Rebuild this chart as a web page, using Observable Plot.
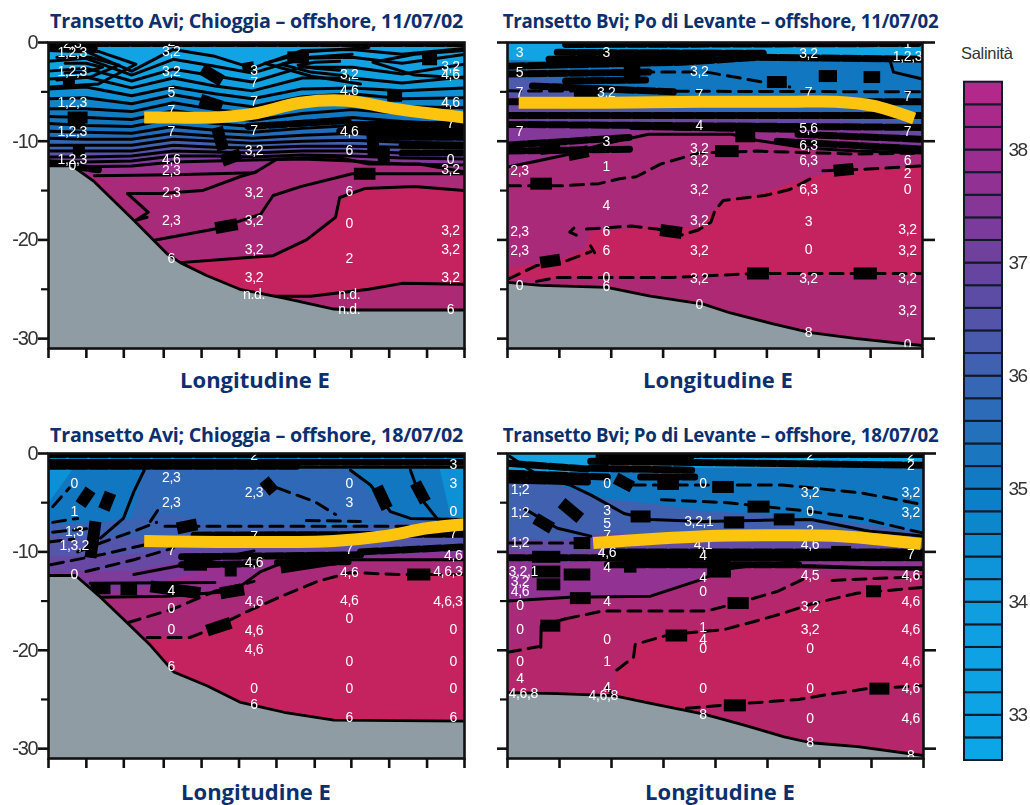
<!DOCTYPE html>
<html><head><meta charset="utf-8">
<script src="https://cdn.jsdelivr.net/npm/d3@7"></script>
<script src="https://cdn.jsdelivr.net/npm/@observablehq/plot@0.6"></script>
<style>
html,body{margin:0;padding:0;background:#fff;overflow:hidden;width:1030px;height:805px}
#page{position:relative;width:1030px;height:805px}
#page svg{position:absolute;overflow:visible;background:transparent;filter:blur(.55px)}
#page g[aria-label="text"]{letter-spacing:-.35px}
.t{position:absolute;font-family:"Open Sans",sans-serif;font-weight:700;color:#0c2f6e;white-space:nowrap;transform:translateX(-50%);line-height:1}
.title{font-size:19.7px;letter-spacing:-.25px}
.title2{font-size:18.7px;letter-spacing:-.25px;margin-top:.5px}
.xl{font-size:22px}
.sal{position:absolute;left:961px;top:44px;font:16.5px "Liberation Sans",sans-serif;color:#333;letter-spacing:-.3px}
</style></head><body><div id="page"></div>
<script>
// ---------- salinity colour scales ----------
const panelSalinity = [33, 34, 34.5, 35, 35.4, 35.8, 36.2, 36.6, 37, 37.5, 38, 38.4, 38.7, 39];
const panelColours = ["#12a5e6","#0fa0e0","#0e90d6","#0f7cc4","#1272bd","#2f68b6","#4060b0","#5a52a8","#6c45a0","#84389a","#9c2e8c","#a92a78","#b5276a","#c4235f"];
const legendSalinity = [32.6, 34, 35, 36, 37, 38, 38.6];
const legendColours = ["#0ca5e8","#0f9ee0","#0c7dc4","#3a64b2","#6b429f","#a02a8e","#b9278a"];
const legendEdges = [32.6,32.8,33,33.2,33.4,33.6,33.8,34,34.2,34.4,34.6,34.8,35,35.2,35.4,35.6,35.8,36,36.2,36.4,36.6,36.8,37,37.2,37.4,37.6,37.8,38,38.2,38.4,38.6];
const legendTicks = [33,34,35,36,37,38];

// ---------- axes ----------
const xTicksWide = [0,9.1,18.1,27.7,36.8,45.8,54.8,64,72.8,81.9,91,100];
const xTicksNarrow = [0,12.5,25,37.5,50,62.5,75,87.5,100];
const yMajor = [0,10,20,30];
const yMinor = [5,15,25];

// ---------- Panel A: Chioggia 11/07/02 ----------
const stationsA = [0,9,20,30,40,49,61,73,85,100];
const bandsA = [
 [33.5,[0.8,0.9,2.9,0.7,1.4,2.6,0.8,0.7,1.2,0.6]],
 [33.7,[1.9,1.6,3.3,1.7,2.4,3.1,1.6,1.5,2.1,1.2]],
 [34,[2.9,2.6,3.9,2.7,3.4,4.0,2.5,2.5,3.2,2.2]],
 [34.2,[3.7,3.5,4.6,3.6,4.4,4.9,3.6,3.6,4.1,3.5]],
 [34.5,[4.7,4.5,5.4,4.5,5.2,5.7,4.7,4.6,4.9,4.6]],
 [34.8,[5.7,5.6,6.2,5.3,6.0,6.5,5.5,5.2,5.7,5.6]],
 [35,[6.7,6.7,7.0,6.1,6.8,7.2,6.4,6.0,6.5,6.6]],
 [35.2,[7.5,7.6,7.8,6.9,7.5,7.9,7.2,6.8,7.2,7.5]],
 [35.4,[8.2,8.4,8.5,7.7,8.2,8.5,8.0,7.6,8.0,8.3]],
 [35.6,[9.0,9.1,9.2,8.5,8.9,9.1,8.7,8.4,8.8,9.0]],
 [35.9,[9.7,9.8,9.8,9.2,9.5,9.7,9.4,9.2,9.5,9.6]],
 [36.2,[10.4,10.4,10.4,9.8,10.0,10.2,10,9.9,10.1,10.2]],
 [36.6,[11,11,11,10.4,10.6,10.7,10.5,10.5,10.6,10.7]],
 [37,[11.6,11.6,11.5,11,11.1,11.2,11,11,11.2,11.2]],
 [37.5,[12,12.1,12,11.5,11.5,11.6,11.4,11.5,11.7,11.8]],
 [38,[12.5,12.6,12.5,12.1,12,11.9,11.8,12,12.3,12.4]]
];
const lowerA = [
 [38.4,[[0,13.5],[30,13.4],[49.5,13.2],[55,11.8],[69,11.6],[77,12.3],[89,12.3],[100,13.1]]],
 [39,[[31.7,22.3],[44,21.9],[54,21.6],[62,20],[69,17.7],[70,15.7],[76,14.8],[88,14.6],[100,15]]],
 [38.5,[[54,25.7],[63,25.7],[77,25],[85,24.4],[100,24.5]]]
];
const solidA = [
 [[11,13.5],[30,13.4],[49.5,13.2],[55,11.8],[69,11.6],[77,12.3],[89,12.3],[100,13.1]],
 [[19,15.3],[27,15.3],[37,15],[46,13.6],[50,13.1]],
 [[19,15.3],[24,17.2],[21,18],[23.7,17.7]],
 [[25.7,20],[40,18.9],[51,17.4],[54,15.5],[60.6,14.6],[73,13.3],[100,13.3]],
 [[31.7,22.3],[44,21.9],[54,21.6],[62,20],[69,17.7],[70,15.7],[76,14.8],[88,14.6],[100,15]],
 [[54,25.7],[63,25.7],[77,25],[85,24.4],[100,24.5]],
 [[0.5,0.8],[12,0.9],[21,2.2],[12,4.2],[0.5,4.5]],
 [[2,1.5],[10,1.5],[17,2.3],[10,3.5],[2,3.8]],
 [[4,2.1],[9,2.1],[13,2.5],[9,3],[4,3.1]],
 [[77,0.5],[63,0.9],[52,2.1],[63,3.4],[75,4.2]],
 [[73,1.2],[63,1.5],[56,2.2],[63,3],[72,3.4]],
 [[70,1.9],[64,2],[60,2.3],[64,2.6],[70,2.8]],
 [[100,0.8],[88,1.2],[78,2],[88,3.3],[100,3.6]]
];
const heavyA = [
 [[0,0.1],[100,0.1]],[[0,0.6],[11,0.6]],
 [[48,8.5],[72,7.9]],[[72,8.3],[100,8.3]],[[78,9.6],[100,9.6]],[[70,9],[100,9]],[[0,12.2],[12,12.9]],[[85,10.4],[100,10.4]],[[85,11.2],[100,11.2]]
];
const dashedA = [];
const clumpsA = [
 [4.9,3.7,4.9,4.7],[7.3,7.1,7.3,8.8],[4.6,7.6,9.4,7.6],[7.3,10.3,7.3,11.6],[36.9,2.7,41.7,3.9],[36.5,5.8,41.7,6.5],
 [40.5,8.6,42,10.9],[41.7,12,46.2,11.3],[47.8,2,48.2,2.9],[57.4,1.5,62.6,1.5],[89.8,1.7,93.4,1.7],[81.4,5.4,85,5.4],
 [73.4,13.3,78.6,13.3],[77.8,8.9,78.2,11.6],[80.6,10.6,80.6,12.3],[40.1,18.8,45.4,18.4]
];
const groundA = [[0,12.5],[5.7,12.5],[11,14.1],[20.5,18],[28.5,21.4],[31.7,22.3],[38,23.6],[46,25],[56.6,25.9],[68.6,27],[72.6,27.1],[100,27.1]];
const yellowA = [[23,7.6],[30,7.6],[39.7,7.6],[49.4,7.2],[60.6,6.1],[71.8,5.9],[82.9,6.7],[100,7.6]];
const labelsA = [
 [5.7,[[0.1,"2,3"],[1,"1,2,3"],[2.9,"1,2,3"],[6.1,"1,2,3"],[9,"1,2,3"],[11.9,"1,2,3"],[12.5,"0"]]],
 [29.5,[[-0.1,"2"],[0.9,"3,2"],[2.9,"3,2"],[5.05,"5"],[6.9,"7"],[9,"7"],[11.9,"4,6"],[13,"2,3"],[15.2,"2,3"],[18,"2,3"],[21.9,"6"]]],
 [49.4,[[2.8,"3"],[4.1,"7"],[6,"7"],[8.9,"7"],[10.9,"3,2"],[15.2,"3,2"],[18,"3,2"],[21,"3,2"],[23.8,"3,2"],[25.5,"n.d."]]],
 [72.3,[[3.2,"3,2"],[4.9,"4,6"],[9,"4,6"],[10.9,"6"],[15.1,"6"],[18.3,"0"],[21.9,"2"],[25.5,"n.d."],[27.1,"n.d."]]],
 [96.6,[[2.4,"3,2"],[3.2,"4,6"],[6.1,"4,6"],[8.2,"7"],[11.9,"0"],[12.9,"3,2"],[19,"3,2"],[21,"3,2"],[23.8,"3,2"],[27.1,"6"]]]
];

// ---------- Panel B: Po di Levante 11/07/02 ----------
const stationsB = [0,12,24,36,47,60,73,85,100];
const bandsB = [
 [35.2,[1.8,2,1.4,1.4,1.3,1.4,1.4,1.6,1.8]],
 [35.8,[3.4,3.6,5.5,5.5,5.7,5.7,5.3,5.5,7.5]],
 [36.4,[3.5,4.1,6,6.7,7,7,7,7.2,8.5]],
 [36.9,[5.3,6.7,7.5,7.5,7.7,7.5,7.5,8.2,9.2]],
 [37.5,[7.7,8.4,8.2,8,8,8.2,8.4,8.9,9.7]],
 [38,[10,10.2,9.4,8.7,8.5,8.9,9.4,10,10.7]]
];
const lowerB = [
 [38.4,[[0,12.6],[6,12.1],[14,11.4],[24,10.2],[34,9.3],[54,9.3],[60,9.9],[72,10.7],[84,11],[100,11.2]]],
 [39,[[0,23],[5,22.6],[13,22],[19,21],[20,19.2],[36,18.7],[46,18.9],[50,17],[52,16],[62,15.2],[73,13.7],[81,13],[100,12.6]]],
 [38.5,[[0,24],[8,24],[24,23.7],[100,23.7]]]
];
const solidB = [
 [[0,12.6],[6,12.1],[14,11.4],[24,10.2],[34,9.3],[54,9.3],[60,9.9],[72,10.7],[84,11],[100,11.2]],
 [[92,1.6],[93,3],[100,3.7]]
];
const heavyB = [
 [[14,0.2],[100,0.1]],[[12,1],[62,1.1]],[[10,1.7],[50,1.6]],[[0,2.4],[42,2],[60,1.5],[100,1.7]],[[0,3.2],[34,3]],[[6,4.4],[40,5]],[[14,3.9],[34,3.8]],
 [[0,6],[100,6]],[[0,7.4],[100,7.4]],[[0,8.3],[100,8.6]],[[0,10.4],[30,9.6]],[[0,11],[30,10.8]],[[30,8.5],[70,8.8]],[[65,10],[100,10.8]],[[70,9.3],[100,9.8]]
];
const dashedB = [
 [[22,3],[46,3]],[[0,4.9],[100,5]],[[48,3],[68,4.5]],
 [[0,24],[7,22.6],[13,22.3],[20,21.2]],[[16,18.8],[15,19.2],[17,19.6]],[[20,20.6],[21,21.3]],
 [[19,18.9],[30,18.6],[36,18.9],[42,19.5],[46,19],[49,18.2],[50,17],[52,16],[62,15.5],[68,14.9],[73,13.8]],
 [[76,13],[88,12.8],[100,12.5]],[[7,24.2],[12,23.8],[40,23.8],[60,23.4],[100,23.4]],
 [[0,14.5],[14,14.5],[22,14.3],[27,13.8],[31,13.6],[37,12.3],[46,11.2],[60,11],[84,11.3],[100,11.2]]
];
const clumpsB = [
 [5.5,14.3,10.7,14.3],[7.9,22.3,12.7,22],[36.8,19,42,19.3],[50,11,55.7,11],[57.7,23.4,63,23.4],[83.4,23.4,89,23.4],
 [78.6,13,83.4,12.8],[62.5,4,67.3,4],[75,3.4,79.4,3.4],[85.8,3.5,89.8,3.5],[54.9,9.5,59.7,9.5],[14.7,11.4,19.5,11],[7.9,10.8,12.7,10.6],
 [28,2.9,32,2.9],[16,5,22,5]
];
const groundB = [[0,24.3],[7.9,24.6],[24,24.8],[34.4,25.7],[47.2,26.5],[53.7,27.4],[64,28.5],[73,29.4],[84.2,30],[100,30.7]];
const yellowB = [[2.7,6.1],[24,6.1],[47,6],[68,6],[79,6],[88,6.4],[98,7.7]];
const labelsB = [
 [2.9,[[1,"3"],[3,"5"],[5.1,"7"],[9,"7"],[13,"2,3"],[19.1,"2,3"],[21.1,"2,3"],[24.6,"0"]]],
 [23.8,[[1,"3"],[5.1,"3,2"],[10,"3"],[12.6,"1"],[16.5,"4"],[19.1,"6"],[21.1,"6"],[23.8,"0"],[24.7,"6"]]],
 [46.2,[[2.9,"3,2"],[5.3,"7"],[8.4,"4"],[10.7,"3,2"],[12,"3,2"],[14.9,"3,2"],[18,"3,2"],[21.1,"3,2"],[23.9,"3,2"],[26.5,"0"]]],
 [72.5,[[1.1,"3,2"],[5.1,"7"],[8.7,"5,6"],[10.4,"6,3"],[12,"6,3"],[14.9,"6,3"],[18.1,"3"],[21,"0"],[23.9,"3,2"],[29.4,"8"]]],
 [96.4,[[0.1,"1"],[1.4,"1,2,3"],[5.5,"7"],[9,"7"],[12,"6"],[13.3,"2"],[14.9,"0"],[18.9,"3,2"],[21.1,"3,2"],[23.9,"3,2"],[27.2,"3,2"],[30.6,"0"]]]
];

// ---------- Panel C: Chioggia 18/07/02 ----------
const stationsC = stationsA;
const patchesC = [
 [35.2,[[6,1.5],[94,1.5],[97,7],[0,7.5],[0,5]]],
 [35.8,[[23,1.6],[73,1.6],[78,4.3],[85,6.7],[50,7.5],[19,7.5],[21,5]]]
];
const bandsC = [
 [34.5,[1.5,1.5,1.5,1.5,1.5,1.5,1.5,1.5,1.5,1.5]]
];
const lowerC = [
 [36.1,[[0,7.2],[9,7.1],[20,6.7],[30,6.2],[40,7.4],[49,7.4],[61,7.3],[73,7.3],[85,6.9],[100,6.7]]],
 [36.5,[[0,8.4],[9,8.6],[20,8.6],[30,9.3],[40,8.6],[49,8.6],[61,8.6],[73,8.6],[85,8.5],[100,8.3]]],
 [36.9,[[0,10.5],[9,10.5],[20,10.3],[30,9.9],[40,9.7],[49,9.6],[61,9.6],[73,9.6],[85,9.6],[100,9.4]]],
 [37.4,[[0,12],[9,12],[20,12],[30,11.2],[40,10.5],[49,10.2],[61,10.2],[73,10.2],[85,10.2],[100,9.8]]],
 [37.9,[[0,14],[12,14],[20,14],[30,12.8],[40,11.5],[49,10.8],[61,10.7],[73,10.6],[85,10.4],[100,10.2]]],
 [38.4,[[12.5,14.6],[28.5,14.5],[44.5,14],[51,12],[57,11],[73,10.8],[100,10.8]]],
 [39,[[23.7,18.7],[34,18.7],[40,17.7],[47,16.2],[55,14.7],[64.6,13],[72.6,12.1],[84.6,12.3],[100,12.3]]]
];
const solidC = [
 [[12.5,8.6],[18,6.6],[20.5,3.9],[23,1.7]],[[72.6,1.7],[77.4,3.2],[82.2,5.9],[87,6.6],[100,6.7]],
 [[87,1.7],[89.4,4.5],[92.6,6.2],[94,6.9]],[[20.5,12.3],[36.5,11],[49.4,9.9]],
 [[12.5,14.6],[28.5,14.5],[44.5,14],[51,12],[57,11],[73,10.8],[100,10.8]],
 [[0,1.4],[100,1.4]],[[10,13.2],[40,13.1]]
];
const heavyC = [[[0,0.1],[100,0.1]],[[0,0.9],[100,0.9]],[[0,1.3],[60,1.3]],[[32,10.5],[75,10.3]],[[32,11.3],[50,11.2]],[[35,8.3],[100,8.2]],[[55,11.1],[72,11]],[[75,10],[100,9.5]]];
const dashedC = [
 [[1,5.4],[5,3.5]],[[24.5,6.9],[27,5.3]],[[7,10],[12.5,9.1],[20.5,7.9],[26,7]],[[0.5,11.3],[12.5,10.3],[23,9.3],[30,8.6]],
 [[9,12],[20.5,10.8],[30,9.6]],[[28,7.4],[100,7.4]],[[62,6.8],[75,6.9]],[[55,3.5],[64,4.9],[69,6.2]],
 [[23.7,18.7],[34,18.7],[40,17.7],[47,16.2],[55,14.7],[64.6,13],[72.6,12.1],[84.6,12.3],[100,12.3]],
 [[19,17.2],[30,15.8],[40,14],[49.4,13]],[[1,8],[10,7.6]],[[1,7],[7,6.6]],[[0,9],[6,8.7]]
];
const clumpsC = [
 [10.1,3.7,7.7,5.2],[14.9,4,13.3,5.7],[11.3,6.9,10.1,10.6],[51.8,2.7,54.2,3.9],[79,3.4,81.4,5.6],[88.2,3,90.6,4.9],
 [30.9,7.6,35.7,7.2],[38.1,18,43.8,17.2],[10.1,13.7,14.9,13.7],[17.3,13.8,21.3,13.8],[24.5,13.5,36.5,14.2],[41.3,14.2,47,13.8],
 [32.5,11.3,38.1,11.3],[43.8,11,43.8,12.5],[55.8,11.6,71,10.6],[86.2,12.3,91.8,12.3]
];
const groundC = [[0,12.4],[6.5,12.4],[12.5,14.6],[18.9,17.2],[24.5,19.5],[30.1,22.2],[38.1,23.6],[46.2,25.3],[56.6,26.3],[68.6,27.1],[100,27.2]];
const yellowC = [[23,8.9],[44.6,9],[68.6,8.9],[80.6,8.4],[91,7.6],[100,7.2]];
const labelsC = [
 [6.2,[[3,"0"],[5.9,"1"],[7.9,"1;3"],[9.4,"1,3,2"],[12.3,"0"]]],
 [29.5,[[2.4,"2,3"],[5,"2,3"],[9.9,"7"],[13.9,"4"],[15.8,"0"],[17.9,"0"],[21.7,"6"]]],
 [49.4,[[0.2,"2"],[4,"2,3"],[8.4,"7"],[11.1,"4,6"],[15,"4,6"],[18,"4,6"],[19.9,"4,6"],[23.9,"0"],[25.5,"6"]]],
 [72.3,[[3,"0"],[5,"3"],[9.8,"7"],[12.1,"4,6"],[14.9,"4,6"],[16.8,"0"],[21.1,"0"],[23.9,"0"],[26.8,"6"]]],
 [97.3,[[1.1,"3"],[3,"3"],[5.9,"0"],[8.1,"7"],[10.4,"4,6"],[17.9,"0"],[21.1,"0"],[23.9,"0"],[26.8,"6"]]],
 [96,[[12,"4,6,3"],[15,"4,6,3"]]]
];

// ---------- Panel D: Po di Levante 18/07/02 ----------
const stationsD = stationsB;
const bandsD = [
 [35.2,[2,2.9,1.5,1.5,1.5,1.5,1.5,1.5,1.5]],
 [36.2,[3,3.2,4.7,5.2,5.9,6.2,6.6,7.2,8.1]],
 [36.8,[8.6,8.9,8.1,8.4,8.6,8.6,8.6,8.6,8.9]],
 [37.3,[9.9,10.3,9.9,9.8,9.8,9.8,9.8,9.8,9.9]],
 [37.8,[11,11.3,10.8,10.6,10.4,10.4,10.4,10.4,10.6]]
];
const lowerD = [
 [38.4,[[0,15],[15,14.6],[34.4,14.5],[46,12.9],[52,11.8],[58.5,11.4],[73,11.4],[87,11.6],[100,11.6]]],
 [38.7,[[0,20],[8,19.6],[8.1,17.5],[13,17],[23,16],[50,16],[57,15],[65,14.1],[73,12.6],[100,12.5]]],
 [39,[[26.3,22],[30.3,20.7],[30.7,19.4],[39,18.4],[52,17.9],[60,17],[65.7,16.3],[73,15.3],[84,14.2],[100,13.6]]],
 [38.7,[[43,25.9],[57,25.4],[70,25],[77,24.5],[86.5,23.9],[100,23.6]]]
];
const solidD = [
 [[0.6,0.3],[8,2.4],[15,3.2],[20,4.2],[28,6.1],[34.4,6.7],[47,6.9],[73,6.7],[87,7.9],[100,8.4]],
 [[4,5.6],[12,7.6],[20,8.4]],[[24,10.6],[50,9.9],[100,9.9]],[[24,11.2],[48,10.8]],[[60,11.4],[100,11.8]],
 [[0,15],[15,14.6],[34.4,14.5],[46,12.9],[52,11.8],[58.5,11.4],[73,11.4],[87,11.6],[100,11.6]],
 [[8,19.7],[8.1,17.5],[14,16.8]]
];
const heavyD = [[[20,0.8],[100,1.2]],[[42,0.1],[100,0.1]],[[0,2],[24,2.4]],[[0,2.7],[20,2.9]],[[20,1.5],[45,1.7]],[[22,0.3],[44,0.4]],[[32,2.4],[45,2.4]],[[0,10.6],[100,10.6]],[[24,10],[100,10]],[[24,11.3],[70,11.3]],[[0,1],[20,1.6]]];
const dashedD = [
 [[0,20.2],[8,19.6]],[[14,16.8],[23,16],[38,16],[48,16],[57,15],[65,14],[71,12.8]],
 [[26.3,22],[30.3,20.7],[30.7,19.4],[39,18.4],[52,17.9],[60,17],[65.7,16.3],[73,15.3],[84,14.2],[100,13.6]],
 [[43,25.9],[57,25.4],[70,25],[77,24.5],[86.5,23.9],[100,23.6]],[[78,12.9],[100,12.5]],
 [[30,3.2],[66,3.2],[85,4],[100,5.2]],[[37,4.7],[53,5],[73,5.9],[85,6.6],[100,8.1]],[[0,9.1],[20,9.1]],[[24,23.8],[26,25]]
];
const clumpsD = [
 [49.2,3.4,54.4,3.4],[36,3.1,41.2,3.1],[57.7,5.4,63,5.4],[29.6,6.4,34.4,6.4],[52,7,56.9,7],[64,6.7,69,6.7],[13,5,17.5,6.6],[6.7,6.6,10.7,7.6],
 [15.9,9.1,19.9,9.1],[5.9,10.5,12.7,10.5],[5.9,12,12.7,12],[7,13.3,12.7,13.3],[13.5,12.3,19.9,12.3],[15,14.7,20,14.7],[7.9,17.5,12.7,17.5],
 [38,18.5,43.2,18.5],[52.9,15.2,58,15.2],[86.2,14,89.8,14],[87,23.9,91.8,23.9],[52,25.6,57.3,25.6],[48,10.5,53.7,10.5],[48,12,53.7,12],
 [28,11.5,31,11.5],[38.4,11,41.6,11],[77.8,10,82.6,10],[26,2.5,30,3.4],[66,10.4,70,10.4]
];
const groundD = [[0,24.3],[11.9,24.4],[25.5,24.6],[34.4,25.4],[47.2,26.5],[56.9,27.6],[66.5,28.8],[72.9,29.4],[84.2,29.8],[100,30.7]];
const yellowD = [[20.6,9.1],[47.2,8.4],[65,8.3],[80.2,8.4],[99.4,9.2]];
const labelsD = [
 [3,[[3.7,"1;2"],[6,"1;2"],[9,"1;2"],[13,"3,2"],[14,"4,6"],[15.5,"0"],[17.9,"0"],[21.1,"0"],[22.9,"4"]]],
 [3.8,[[12,"3,2,1"],[24.4,"4,6,8"]]],
 [23.9,[[3,"0"],[5.8,"3"],[7.1,"5"],[8.3,"7"],[10.1,"4,6"],[11.6,"4"],[15,"4"],[18.9,"0"],[21.1,"1"],[23.8,"4"]]],
 [23,[[24.6,"4,6,8"]]],
 [47,[[3,"0"],[9.3,"4,1"],[10.4,"4"],[12.6,"4"],[14,"0"],[17.7,"1"],[18.9,"4"],[19.8,"0"],[23.9,"0"],[26.5,"8"]]],
 [46,[[6.9,"3,2,1"]]],
 [72.7,[[0.2,"2"],[4,"3,2"],[5.9,"0"],[7.8,"2"],[9.2,"4,6"],[12.4,"4,5"],[15.6,"3,2"],[17.9,"3,2"],[19.8,"0"],[23.9,"0"],[26.9,"0"],[29.4,"8"]]],
 [96.9,[[0.2,"2"],[1.2,"2"],[4,"3,2"],[6,"3,2"],[10.3,"7"],[12.4,"4,6"],[15,"4,6"],[17.9,"4,6"],[21.1,"4,6"],[23.9,"4,6"],[26.9,"4,6"],[30.7,"8"]]]
];

// ---------- texts ----------
const titles = ["Transetto Avi; Chioggia – offshore, 11/07/02","Transetto Bvi; Po di Levante – offshore, 11/07/02","Transetto Avi; Chioggia – offshore, 18/07/02","Transetto Bvi; Po di Levante – offshore, 18/07/02"];
const xTitle = "Longitudine E";

// ---------- drawing ----------
const page = document.getElementById("page");
const pairs = a => a.map(([x,d]) => ({x,d}));
const many = ls => ls.flatMap((l,k) => l.map(([x,d]) => ({x,d,k})));
const colourScale = {type:"linear",domain:panelSalinity,range:panelColours,clamp:true,interpolate:"rgb"};

function panel(o){
 const layer = (s,pts) => Plot.areaY(pts.map(p=>({...p,s,b:31})),{x:"x",y1:"d",y2:"b",fill:"s",clip:true});
 const marks = [
  Plot.areaY(pairs([[0,0],[100,0]]).map(p=>({...p,s:33.5,b:31})),{x:"x",y1:"d",y2:"b",fill:"s"}),
  ...o.bands.map(([s,ds])=>layer(s,o.stations.map((x,i)=>({x,d:ds[i]})))),
  ...(o.patches||[]).map(([s,pts])=>Plot.line(pairs(pts),{x:"x",y:"d",fill:()=>s,stroke:null,clip:true})),
  ...o.lower.map(([s,pts])=>layer(s,pairs(pts))),
 ];
 if(o.strokeBands) marks.push(Plot.line(o.bands.flatMap(([s,ds],k)=>o.stations.map((x,i)=>({x,d:ds[i],k}))),{x:"x",y:"d",z:"k",stroke:"#000",strokeWidth:3,clip:true}));
 marks.push(
  Plot.line(many(o.heavy),{x:"x",y:"d",z:"k",stroke:"#000",strokeWidth:7,strokeDasharray:"17,4",clip:true}),
  Plot.line(many(o.solid),{x:"x",y:"d",z:"k",stroke:"#000",strokeWidth:3,clip:true}),
  Plot.line(many(o.dashed),{x:"x",y:"d",z:"k",stroke:"#000",strokeWidth:3,strokeDasharray:"13,8",clip:true}),
  Plot.link(o.clumps,{x1:"0",y1:"1",x2:"2",y2:"3",stroke:"#000",strokeWidth:12,clip:true}),
  Plot.areaY(pairs(o.ground).map(p=>({...p,b:31})),{x:"x",y1:"d",y2:"b",fill:"#8f9ca3",clip:true}),
  Plot.line(pairs(o.ground),{x:"x",y:"d",stroke:"#000",strokeWidth:2.8,clip:true}),
  Plot.text(o.labels.flatMap(([x,ls])=>ls.map(([d,t])=>({x,d,t}))),{x:"x",y:"d",text:"t",fill:"#fff",fontSize:14,fontFamily:"Liberation Sans",clip:true}),
  Plot.line(pairs(o.yellow),{x:"x",y:"d",stroke:"#fcc30f",strokeWidth:12,curve:"catmull-rom",strokeLinecap:"butt",clip:true}),
  Plot.frame({stroke:"#111",strokeWidth:2.6}),
  Plot.axisX({ticks:o.xTicks,tickSize:10,tickFormat:()=>"",strokeWidth:2.6,stroke:"#111",label:null}),
  Plot.axisY({ticks:yMinor,tickSize:7,tickFormat:()=>"",strokeWidth:2.2,stroke:"#111",label:null}),
  Plot.axisY({ticks:yMajor,tickSize:10,tickPadding:1,tickFormat:o.yLabels?(d=>d===0?"0":"-"+d):()=>"",strokeWidth:2.6,stroke:"#111",fill:"#333",label:null})
 );
 if(o.rightTicks) marks.push(Plot.axisY({anchor:"right",ticks:yMajor,tickSize:12,tickFormat:()=>"",strokeWidth:2.6,stroke:"#111",label:null}));
 const svg = Plot.plot({
  width:o.w+70,height:o.h+32,marginLeft:48,marginRight:22,marginTop:12,marginBottom:20,
  x:{domain:[0,100],axis:null},y:{domain:[31,0],axis:null},color:colourScale,
  style:{fontFamily:"Liberation Sans",fontSize:"20px",letterSpacing:"-1.2px",background:"transparent"},
  marks
 });
 svg.style.left=(o.left-48)+"px"; svg.style.top=(o.top-12)+"px";
 page.appendChild(svg);
}

const pA = {left:48,top:41.5,w:416,h:306,xTicks:xTicksWide,yLabels:true,stations:stationsA,bands:bandsA,lower:lowerA,strokeBands:true,solid:solidA,heavy:heavyA,dashed:dashedA,clumps:clumpsA,ground:groundA,yellow:yellowA,labels:labelsA};
const pB = {left:507,top:41.5,w:415,h:306,xTicks:xTicksNarrow,rightTicks:true,stations:stationsB,bands:bandsB,lower:lowerB,solid:solidB,heavy:heavyB,dashed:dashedB,clumps:clumpsB,ground:groundB,yellow:yellowB,labels:labelsB};
const pC = {left:48,top:453,w:416,h:305,xTicks:xTicksWide,yLabels:true,stations:stationsC,bands:bandsC,patches:patchesC,lower:lowerC,solid:solidC,heavy:heavyC,dashed:dashedC,clumps:clumpsC,ground:groundC,yellow:yellowC,labels:labelsC};
const pD = {left:507,top:453,w:416,h:305,xTicks:xTicksNarrow,rightTicks:true,stations:stationsD,bands:bandsD,lower:lowerD,solid:solidD,heavy:heavyD,dashed:dashedD,clumps:clumpsD,ground:groundD,yellow:yellowD,labels:labelsD};
[pA,pB,pC,pD].forEach(panel);

// colour bar
const bins = d3.pairs(legendEdges).map(([lo,hi])=>({lo,hi}));
const bar = Plot.plot({
 width:90,height:805,marginLeft:24,marginRight:28,marginTop:81.7,marginBottom:45,
 x:{domain:[0,1],axis:null},y:{domain:[32.6,38.6],axis:null},
 color:{type:"linear",domain:legendSalinity,range:legendColours,interpolate:"rgb"},
 style:{fontFamily:"Liberation Sans",fontSize:"19px",letterSpacing:"-1.6px",background:"transparent"},
 marks:[
  Plot.rect(bins,{x1:()=>0,x2:()=>1,y1:"lo",y2:"hi",fill:d=>(d.lo+d.hi)/2,stroke:"#111a2a",strokeWidth:2}),
  Plot.axisY({anchor:"right",ticks:legendTicks,tickSize:0,tickPadding:6,tickFormat:d=>String(d),fill:"#333",label:null})
 ]
});
bar.style.left="940px";bar.style.top="0px";
page.appendChild(bar);

function text(cls,str,x,y){const e=document.createElement("div");e.className="t "+cls;e.textContent=str;e.style.left=x+"px";e.style.top=y+"px";page.appendChild(e);}
text("title",titles[0],256.5,11);text("title2",titles[1],720.5,11);text("title",titles[2],256.5,425);text("title2",titles[3],720.5,425);
text("xl",xTitle,255,368);text("xl",xTitle,718,368);text("xl",xTitle,256,780);text("xl",xTitle,720,780);
const sal=document.createElement("div");sal.className="sal";sal.textContent="Salinità";page.appendChild(sal);
</script></body></html>
